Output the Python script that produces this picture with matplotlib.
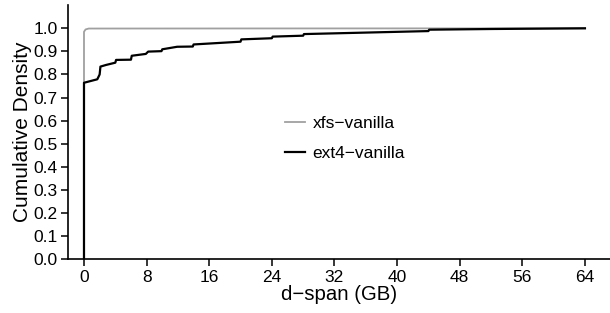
import matplotlib
matplotlib.use("Agg")
import matplotlib.pyplot as plt

plt.rcParams["font.family"] = ["Liberation Sans", "DejaVu Sans"]

# CDF-verteces, lesnir af myndinni
xfs_x = [0, 0, 0.2, 0.6, 64]
xfs_y = [0, 0.985, 0.995, 0.999, 1.0]

ext4_x = [0, 0, 1.7, 2.0, 2.1, 2.8, 4.0, 4.1, 6.0, 6.1, 7.9, 8.2, 9.9, 10.0,
          11.9, 13.9, 14.0, 20.0, 20.1, 24.0, 24.1, 28.0, 28.1, 44.0, 44.1,
          52.0, 64.0]
ext4_y = [0, 0.764, 0.779, 0.80, 0.834, 0.841, 0.851, 0.863, 0.864, 0.881,
          0.889, 0.899, 0.901, 0.909, 0.920, 0.921, 0.930, 0.942, 0.952,
          0.957, 0.964, 0.968, 0.975, 0.988, 0.994, 0.997, 1.0]

xticks = [0, 8, 16, 24, 32, 40, 48, 56, 64]
yticks = [round(0.1 * i, 1) for i in range(11)]

fig = plt.figure(figsize=(6.1, 3.13), dpi=100)
ax = fig.add_axes([0.111, 0.1725, 0.889, 0.8115])

ax.plot(xfs_x, xfs_y, color="#a0a0a0", lw=1.3, label="xfs\u2212vanilla")
ax.plot(ext4_x, ext4_y, color="black", lw=1.6, label="ext4\u2212vanilla")

ax.set_xlim(-2.08, 67.2)
ax.set_ylim(0, 1.101)
ax.set_xticks(xticks)
ax.set_yticks(yticks)
ax.set_yticklabels([f"{v:.1f}" for v in yticks])
ax.tick_params(direction="out", length=5, width=1.1, labelsize=12.5, pad=2)
ax.tick_params(axis="x", labelsize=12.5, pad=3)

for s in ["top", "right"]:
    ax.spines[s].set_visible(False)
for s in ["left", "bottom"]:
    ax.spines[s].set_linewidth(1.2)

ax.set_xlabel("d\u2212span (GB)", fontsize=14.7, labelpad=0)
ax.set_ylabel("Cumulative Density", fontsize=15, labelpad=1)

ax.legend(loc="center left", bbox_to_anchor=(0.384, 0.475), frameon=False,
          fontsize=12.5, borderpad=0, handlelength=1.15, handletextpad=0.46,
          labelspacing=0.85)

fig.savefig("out.png", dpi=100)
